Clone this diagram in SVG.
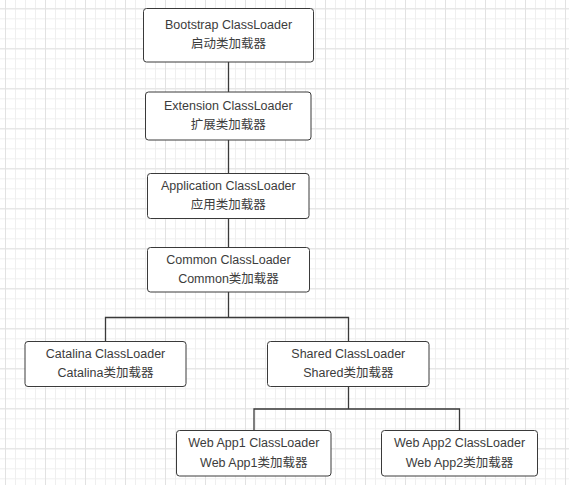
<svg xmlns="http://www.w3.org/2000/svg" width="569" height="485" viewBox="0 0 569 485">
  <style>
    .box { fill: #ffffff; stroke: #3a3a3a; stroke-width: 1; }
    .lbl { font-family: "Liberation Sans", "Noto Sans CJK SC", sans-serif; font-size: 12.5px; fill: #3c3c3c; text-anchor: middle; }
    .conn { fill: none; stroke: #3a3a3a; stroke-width: 1.3; }
  </style>
  <defs>
    <pattern id="minor" x="5" y="8.3" width="10" height="10" patternUnits="userSpaceOnUse">
      <path d="M0 0.5H10M0.5 0V10" fill="none" stroke="#efefef" stroke-width="1"/>
    </pattern>
    <pattern id="major" x="5" y="8.3" width="40" height="40" patternUnits="userSpaceOnUse">
      <path d="M0 0.5H40M0.5 0V40" fill="none" stroke="#e2e2e2" stroke-width="1"/>
    </pattern>
  </defs>
  <rect width="569" height="485" fill="#ffffff"/>
  <rect width="569" height="485" fill="url(#minor)"/>
  <rect width="569" height="485" fill="url(#major)"/>

  <g id="connectors">
    <path class="conn" d="M228.5 62V92"/>
    <path class="conn" d="M228.5 140V173.5"/>
    <path class="conn" d="M228.5 218.5V247.5"/>
    <path class="conn" d="M228.5 292V317.5M105.5 341.5V317.5H348.5V341.5"/>
    <path class="conn" d="M348.5 386.5V409M254 430.5V409H459.5V430.5"/>
  </g>

  <g id="bootstrap">
    <rect class="box" x="143.5" y="8.5" width="170" height="53.5" rx="3"/>
    <text class="lbl" x="228.5" y="29">Bootstrap ClassLoader</text>
    <text class="lbl" x="228.5" y="48">启动类加载器</text>
  </g>
  <g id="extension">
    <rect class="box" x="145.5" y="92" width="165.5" height="48" rx="3"/>
    <text class="lbl" x="228.3" y="109.5">Extension ClassLoader</text>
    <text class="lbl" x="228.3" y="129">扩展类加载器</text>
  </g>
  <g id="application">
    <rect class="box" x="147.5" y="173.5" width="161.5" height="45" rx="3"/>
    <text class="lbl" x="228.3" y="189.5">Application ClassLoader</text>
    <text class="lbl" x="228.3" y="209">应用类加载器</text>
  </g>
  <g id="common">
    <rect class="box" x="147.5" y="247.5" width="162" height="44.5" rx="3"/>
    <text class="lbl" x="228.5" y="263.5">Common ClassLoader</text>
    <text class="lbl" x="228.5" y="283">Common类加载器</text>
  </g>
  <g id="catalina">
    <rect class="box" x="25" y="341.5" width="161" height="45" rx="3"/>
    <text class="lbl" x="105.5" y="357.5">Catalina ClassLoader</text>
    <text class="lbl" x="105.5" y="377">Catalina类加载器</text>
  </g>
  <g id="shared">
    <rect class="box" x="267.5" y="341.5" width="161.5" height="45" rx="3"/>
    <text class="lbl" x="348.3" y="357.5">Shared ClassLoader</text>
    <text class="lbl" x="348.3" y="377">Shared类加载器</text>
  </g>
  <g id="webapp1">
    <rect class="box" x="176.5" y="430.5" width="154.5" height="45.5" rx="3"/>
    <text class="lbl" x="253.8" y="447">Web App1 ClassLoader</text>
    <text class="lbl" x="253.8" y="467">Web App1类加载器</text>
  </g>
  <g id="webapp2">
    <rect class="box" x="381.5" y="430.5" width="156" height="45.5" rx="3"/>
    <text class="lbl" x="459.5" y="447">Web App2 ClassLoader</text>
    <text class="lbl" x="459.5" y="467">Web App2类加载器</text>
  </g>
</svg>
